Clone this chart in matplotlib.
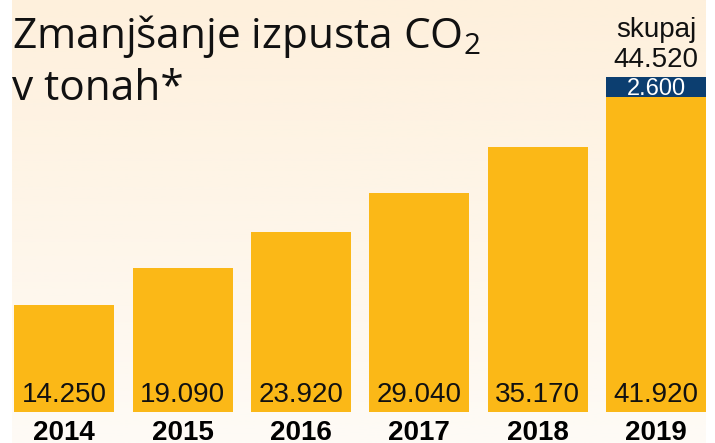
import numpy as np
import matplotlib.pyplot as plt

# data
years = ['2014', '2015', '2016', '2017', '2018', '2019']
reduction = [14250, 19090, 23920, 29040, 35170, 41920]
extra_2019 = 2600
total_2019 = 44520

def fmt(v):
    return f"{v:,}".replace(',', '.')

plt.rcParams['mathtext.fontset'] = 'custom'
plt.rcParams['mathtext.rm'] = 'Open Sans'

W, H = 715, 443
fig = plt.figure(figsize=(W / 100, H / 100), dpi=100)
fig.patch.set_facecolor('white')

# cream gradient background
bg = fig.add_axes([12 / W, 0, 694 / W, 1])
top_c = np.array([254, 240, 220]) / 255
bot_c = np.array([254, 251, 246]) / 255
t = np.linspace(0, 1, 256)[:, None]
grad = (top_c * (1 - t) + bot_c * t)[:, None, :]
bg.imshow(grad, aspect='auto', extent=[0, 1, 0, 1])
bg.axis('off')

# bars
ax = fig.add_axes([12 / W, 31 / H, 694 / W, 412 / H])
ax.patch.set_alpha(0)
x = np.arange(len(years))
yellow = '#FBB817'
navy = '#0C3E70'
ax.bar(x, reduction, width=0.845, color=yellow)
ax.bar(x[-1], extra_2019, bottom=reduction[-1], width=0.845, color=navy)

ax.set_xlim(-0.44, 5.42)
ax.set_ylim(0, total_2019 * 412 / 335)
for s in ax.spines.values():
    s.set_visible(False)
ax.set_yticks([])
ax.set_xticks(x)
ax.set_xticklabels(years, fontfamily='Liberation Sans', fontweight='bold', fontsize=20)
ax.tick_params(axis='x', length=0, pad=6)

for xi, v in zip(x, reduction):
    ax.annotate(fmt(v), xy=(xi, 0), xytext=(0, 7.3), textcoords='offset points',
                ha='center', va='baseline', fontsize=20, family='Liberation Sans',
                color='#111111')

ax.annotate(fmt(extra_2019), xy=(x[-1], reduction[-1] + extra_2019 / 2),
            xytext=(0, -6), textcoords='offset points', ha='center', va='baseline',
            fontsize=17, family='Liberation Sans', color='white')
ax.annotate(fmt(total_2019), xy=(x[-1], total_2019), xytext=(0, 7),
            textcoords='offset points', ha='center', va='baseline', fontsize=20,
            family='Liberation Sans', color='#111111')
ax.annotate('skupaj', xy=(x[-1], total_2019), xytext=(0, 29),
            textcoords='offset points', ha='center', va='baseline', fontsize=20,
            family='Liberation Sans', color='#111111')

fig.text(12 / W, 1 - 48 / H, 'Zmanjšanje izpusta CO$_\\mathrm{2}$', fontsize=30.5,
         family='Open Sans', va='baseline', ha='left', color='#111111')
fig.text(12 / W, 1 - 100 / H, 'v tonah*', fontsize=30.5,
         family='Open Sans', va='baseline', ha='left', color='#111111')

fig.savefig('out.png', dpi=100)
